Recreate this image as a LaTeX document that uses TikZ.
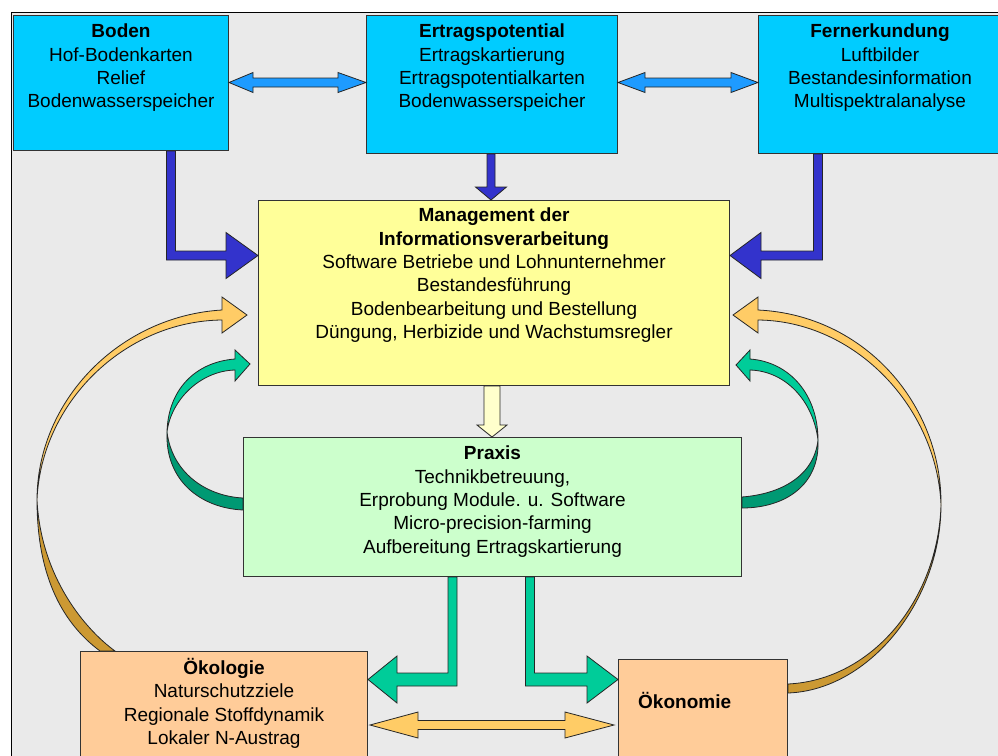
\documentclass[tikz,border=0pt]{standalone}
\usepackage{fontspec}
\setmainfont{Liberation Sans}
\usetikzlibrary{calc}

\definecolor{bgGray}{RGB}{234,234,234}
\definecolor{boxCyan}{RGB}{0,204,255}
\definecolor{boxYellow}{RGB}{255,255,153}
\definecolor{boxGreen}{RGB}{204,255,204}
\definecolor{boxOrange}{RGB}{255,204,153}
\definecolor{arrLight}{RGB}{30,155,255}
\definecolor{arrBlue}{RGB}{51,51,204}
\definecolor{arrCream}{RGB}{255,255,204}
\definecolor{arrGreen}{RGB}{0,204,153}
\definecolor{arrGreenDark}{RGB}{0,153,115}
\definecolor{arrOrange}{RGB}{255,204,102}
\definecolor{arrOrangeDark}{RGB}{204,153,51}

\begin{document}
\begin{tikzpicture}[x=1pt,y=-1pt,
  box/.style={draw=black!80, line width=1pt, rectangle, inner sep=0pt, anchor=north west},
  txt/.style={align=center, inner sep=0pt, anchor=north, font=\fontsize{19}{23.3}\selectfont},
  blockarrow/.style={draw=black!85, line width=0.8pt, line join=miter}]
\useasboundingbox (0,0) rectangle (998,755);
\fill[white] (0,0) rectangle (998,755);
\draw[fill=bgGray, draw=black, line width=1pt] (11,12) rectangle (1010,770);

% boxes
\node[box, fill=boxCyan, minimum width=215pt, minimum height=135pt] (boden) at (13,15) {};
\node[box, fill=boxCyan, minimum width=251pt, minimum height=138pt] (ertrag) at (366,15) {};
\node[box, fill=boxCyan, minimum width=243pt, minimum height=138pt] (fern) at (758,15) {};
\node[box, fill=boxYellow, minimum width=471pt, minimum height=185pt] (mgmt) at (258,200) {};
\node[box, fill=boxGreen, minimum width=498pt, minimum height=139pt] (praxis) at (243,437) {};
\node[box, fill=boxOrange, minimum width=287pt, minimum height=130pt] (oeko) at (80,651) {};
\node[box, fill=boxOrange, minimum width=169pt, minimum height=130pt] (oekon) at (618,659) {};

% texts
\node[txt] (bodentxt) at ($(boden.north)+(0,9)$) {\textbf{Boden}\\Hof-Bodenkarten\\Relief\\Bodenwasserspeicher};
\node[txt] (ertragtxt) at ($(ertrag.north)+(0,9)$) {\textbf{Ertragspotential}\\Ertragskartierung\\Ertragspotentialkarten\\Bodenwasserspeicher};
\node[txt] (ferntxt) at ($(fern.north)+(0,9)$) {\textbf{Fernerkundung}\\Luftbilder\\Bestandesinformation\\Multispektralanalyse};
\node[txt] (mgmttxt) at ($(mgmt.north)+(0,8)$) {\textbf{Management der}\\\textbf{Informationsverarbeitung}\\Software Betriebe und Lohnunternehmer\\Bestandesführung\\Bodenbearbeitung und Bestellung\\Düngung, Herbizide und Wachstumsregler};
\node[txt] (praxistxt) at ($(praxis.north)+(0,9)$) {\textbf{Praxis}\\Technikbetreuung,\\Erprobung Module. u. Software\\Micro-precision-farming\\Aufbereitung Ertragskartierung};
\node[txt] (oekotxt) at ($(oeko.north)+(0,7)$) {\textbf{Ökologie}\\Naturschutzziele\\Regionale Stoffdynamik\\Lokaler N-Austrag};
\node[txt, anchor=base west] (oekontxt) at ($(oekon.north west)+(20,49)$) {\textbf{Ökonomie}};

% double arrows on top
\draw[blockarrow, fill=arrLight] (boden.east |- 0,82.5) -- (253,72.5) -- (253,78) -- (338,78) -- (338,72.5)
  -- (ertrag.west |- 0,82.5) -- (338,92.5) -- (338,87) -- (253,87) -- (253,92.5) -- cycle;
\draw[blockarrow, fill=arrLight] (ertrag.east |- 0,82.5) -- (645,72.5) -- (645,78) -- (731,78) -- (731,72.5)
  -- (fern.west |- 0,82.5) -- (731,92.5) -- (731,87) -- (645,87) -- (645,92.5) -- cycle;

% blue arrows into management
\draw[blockarrow, fill=arrBlue] (boden.south -| 166.5,0) -- (166.5,260) -- (226,260) -- (226,278.5)
  -- (mgmt.west |- 0,255.5) -- (226,232.5) -- (226,251) -- (175.5,251) -- (boden.south -| 175.5,0) -- cycle;
\draw[blockarrow, fill=arrBlue] (fern.south -| 822.5,0) -- (822.5,260) -- (761,260) -- (761,278.5)
  -- (mgmt.east |- 0,255.5) -- (761,232.5) -- (761,251) -- (813.5,251) -- (fern.south -| 813.5,0) -- cycle;
\draw[blockarrow, fill=arrBlue] (ertrag.south -| 487,0) -- (487,187) -- (475.5,187) -- (mgmt.north -| 491,0)
  -- (506.5,187) -- (495,187) -- (ertrag.south -| 495,0) -- cycle;

% management -> praxis
\draw[blockarrow, fill=arrCream] (mgmt.south -| 484,0) -- (484,425) -- (477,425) -- (praxis.north -| 492,0)
  -- (507,425) -- (500,425) -- (mgmt.south -| 500,0) -- cycle;

% praxis -> oekologie / oekonomie
\draw[blockarrow, fill=arrGreen] (praxis.south -| 457,0) -- (457,686) -- (397,686) -- (397,703)
  -- (oeko.east |- 0,679.5) -- (397,656) -- (397,673) -- (448,673) -- (praxis.south -| 448,0) -- cycle;
\draw[blockarrow, fill=arrGreen] (praxis.south -| 525.5,0) -- (525.5,686) -- (587,686) -- (587,703)
  -- (oekon.west |- 0,679.5) -- (587,656) -- (587,673) -- (534.5,673) -- (praxis.south -| 534.5,0) -- cycle;

% oekologie <-> oekonomie
\draw[blockarrow, fill=arrOrange] ($(oeko.east |- 0,725)+(2,0)$) -- (418,712) -- (418,720.5) -- (565,720.5) -- (565,712)
  -- ($(oekon.west |- 0,725)+(-4,0)$) -- (565,738) -- (565,729.5) -- (418,729.5) -- (418,738) -- cycle;

% curved feedback arrows, left
\draw[blockarrow, fill=arrOrange] ($(mgmt.west |- 0,315)+(-11,0)$) -- (222,297) -- (222,310)
  .. controls (120,316) and (37,400) .. (37,500) .. controls (41,403) and (124,321) .. (222,320) -- (222,333) -- cycle;
\draw[blockarrow, fill=arrOrangeDark] (37,500) .. controls (37,580) and (65,625) .. ($(oeko.north west)+(20,0)$)
  -- ($(oeko.north west)+(35,0)$) .. controls (86,630) and (41,578) .. (37,500) -- cycle;
\draw[blockarrow, fill=arrGreen] ($(mgmt.west |- 0,364)+(-8,0)$) -- (235,350) -- (235,359)
  .. controls (195,362) and (168,390) .. (167,432) .. controls (171,400) and (200,371) .. (235,370) -- (235,381) -- cycle;
\draw[blockarrow, fill=arrGreenDark] (167,432) .. controls (165,480) and (200,508) .. (praxis.west |- 0,510)
  -- (praxis.west |- 0,498) .. controls (205,496) and (172,472) .. (167,432) -- cycle;

% curved feedback arrows, right
\draw[blockarrow, fill=arrOrange] ($(mgmt.east |- 0,315)+(3,0)$) -- (758,297) -- (758,310)
  .. controls (865,315) and (942,405) .. (941,505) .. controls (937,408) and (856,321) .. (758,320) -- (758,333) -- cycle;
\draw[blockarrow, fill=arrOrangeDark] (941,505) .. controls (941,600) and (870,690) .. (oekon.east |- 0,693)
  -- (oekon.east |- 0,684) .. controls (872,680) and (938,600) .. (941,505) -- cycle;
\draw[blockarrow, fill=arrGreen] ($(mgmt.east |- 0,365)+(6,0)$) -- (750,350) -- (750,359)
  .. controls (790,362) and (818,395) .. (818,440) .. controls (813,400) and (785,371) .. (750,370) -- (750,381) -- cycle;
\draw[blockarrow, fill=arrGreenDark] (818,440) .. controls (820,485) and (785,508) .. (praxis.east |- 0,508)
  -- (praxis.east |- 0,497) .. controls (781,494) and (814,476) .. (818,440) -- cycle;
\end{tikzpicture}
\end{document}
